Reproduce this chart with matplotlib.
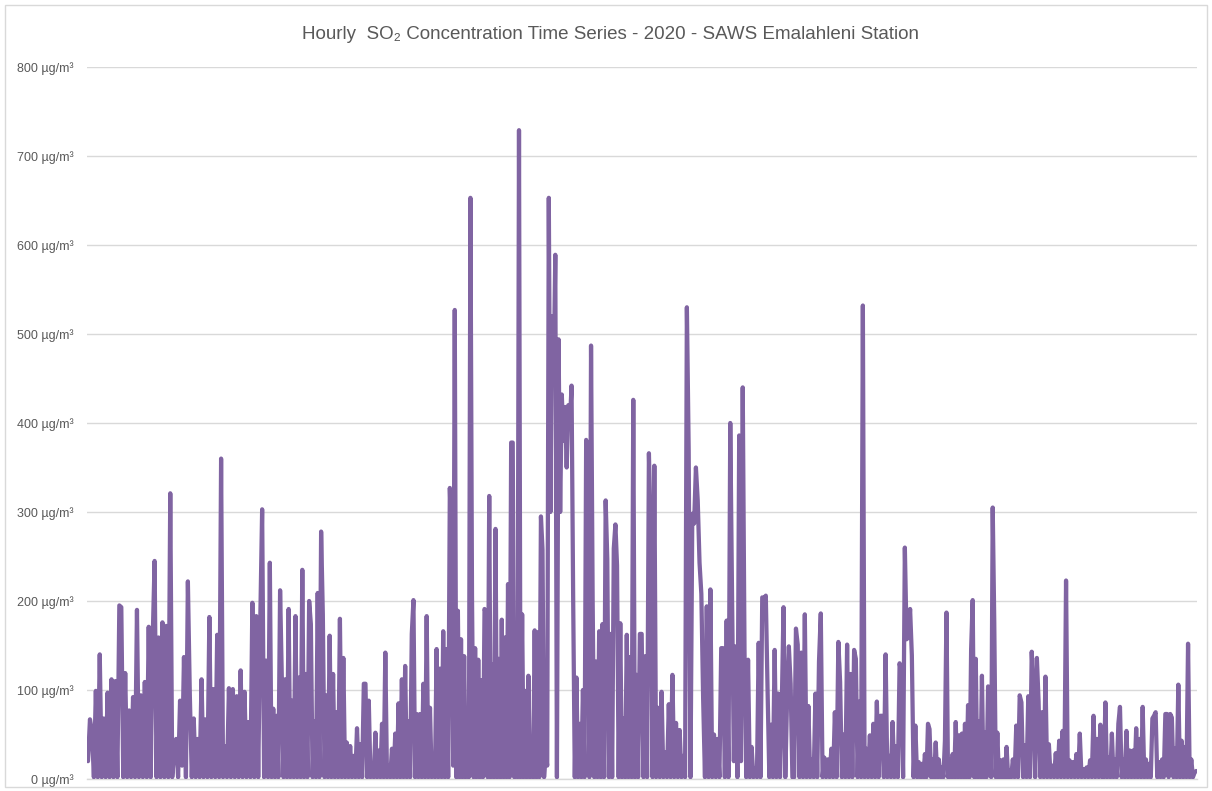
import matplotlib
matplotlib.use("Agg")
import numpy as np
import matplotlib.pyplot as plt
from matplotlib.patches import Rectangle

plt.rcParams["path.simplify"] = False

# Hourly SO2 readings (µg/m³), month by month (2020, leap year)
month_days = [31, 29, 31, 30, 31, 30, 31, 31, 30, 31, 30, 31]

jan = [20, 67, 54, 2, 99, 2, 140, 2, 68, 2, 97, 2, 112, 2, 110, 2, 195, 193, 2, 119,
       2, 77, 2, 92, 2, 190, 2, 94, 2, 109, 2, 171, 2, 154, 245, 2, 159, 2, 176, 2,
       172, 2, 321, 2, 30, 45, 2, 88]
feb = [15, 137, 2, 222, 94, 2, 68, 2, 45, 2, 112, 2, 67, 2, 182, 2, 101, 2, 162, 2,
       360, 2, 37, 2, 102, 2, 101, 2, 93, 2, 122, 2, 98, 2, 64, 2, 198, 2, 183, 2,
       172, 303, 2, 133, 2]
mar = [243, 2, 79, 2, 71, 2, 212, 114, 2, 112, 2, 191, 2, 88, 2, 183, 2, 114, 2, 235,
       2, 118, 2, 200, 174, 2, 65, 2, 209, 2, 278, 185, 2, 94, 2, 161, 2, 118, 2, 75,
       2, 180, 2, 136, 2, 41, 2, 37, 2, 26, 2, 57, 2, 39, 2]
apr = [107, 107, 2, 88, 2, 11, 2, 52, 2, 32, 2, 62, 2, 142, 2, 15, 2, 34, 2, 51,
       2, 85, 2, 112, 2, 127, 2, 65, 2, 163, 201, 2, 73, 2, 73, 2, 107, 2, 183, 2,
       80, 2, 22, 2, 146, 2, 124, 2, 166, 2, 146, 2, 327, 262, 15]
may = [527, 2, 189, 2, 157, 2, 138, 2, 52, 2, 653, 207, 2, 147, 2, 134, 2, 111, 2, 191,
       186, 2, 318, 2, 129, 2, 281, 2, 135, 2, 179, 2, 159, 2, 219, 2, 378, 378, 2, 152,
       2, 729, 2, 185, 2, 99, 2, 116, 2, 36, 2, 167, 2, 165, 2, 295, 258, 2, 30, 15]
jun = [653, 300, 520, 450, 589, 2, 494, 300, 432, 380, 418, 350, 420, 400, 442, 203, 2, 114, 2, 62,
       2, 100, 2, 381, 346, 2, 487, 199, 2, 132, 2, 166, 2, 174, 2, 313, 247, 2, 163, 2,
       259, 286, 240, 2, 175, 2, 68, 2, 162, 2, 137, 2, 426, 2, 117, 2]
jul = [163, 163, 2, 138, 2, 366, 278, 2, 352, 2, 80, 2, 98, 2, 30, 2, 84, 2, 117, 2,
       63, 2, 55, 2, 26, 2, 530, 369, 2, 298, 287, 350, 313, 243, 208, 90, 2, 194, 2, 213,
       2, 50, 2, 45, 2, 147, 147, 2, 178, 2, 400, 203]
aug = [20, 149, 2, 386, 20, 440, 144, 2, 134, 2, 36, 2, 12, 2, 153, 2, 204, 203, 206, 100,
       2, 61, 2, 145, 2, 96, 2, 80, 193, 2, 90, 149, 107, 2, 2, 169, 151, 2, 142, 2,
       185, 2, 82, 2, 22, 2, 96, 2, 132, 186, 2, 24, 2]
sep = [22, 2, 34, 2, 75, 2, 154, 109, 2, 50, 2, 151, 2, 118, 2, 145, 135, 2, 87, 2,
       532, 2, 34, 2, 49, 2, 62, 2, 87, 2, 71, 71, 2, 140, 2, 26, 2, 64, 2, 37,
       2, 130, 118, 2, 260, 157, 159, 191, 139, 2, 60, 2]
oct_ = [19, 2, 17, 2, 28, 2, 62, 56, 2, 22, 2, 41, 2, 22, 2, 13, 2, 43, 187, 2,
        22, 2, 28, 2, 64, 2, 49, 2, 51, 2, 62, 2, 83, 2, 146, 201, 2, 135, 2, 65,
        2, 116, 2, 52, 2, 104, 103, 2, 305, 176, 2, 52, 2, 21, 2, 22, 2, 36, 2, 9, 2]
nov = [22, 2, 60, 2, 94, 86, 2, 38, 2, 93, 2, 143, 98, 2, 136, 87, 2, 75, 2, 115,
       2, 39, 2, 15, 2, 29, 2, 43, 2, 54, 2, 223, 2, 21, 2, 19, 2, 28, 2, 51,
       2, 11, 2, 13, 2, 21, 2, 71, 2, 45, 2, 61, 2]
dec = [2, 86, 2, 24, 2, 51, 2, 22, 2, 62, 81, 2, 22, 2, 54, 2, 32, 2, 32, 2,
       57, 2, 45, 2, 81, 2, 22, 2, 17, 2, 68, 71, 75, 2, 19, 2, 22, 2, 73, 73,
       2, 73, 69, 2, 34, 2, 106, 2, 43, 2, 36, 2, 152, 2, 22, 2, 7, 9]

months = [jan, feb, mar, apr, may, jun, jul, aug, sep, oct_, nov, dec]

y_ticks = [0, 100, 200, 300, 400, 500, 600, 700, 800]
y_labels = [f"{v} µg/m³" for v in y_ticks]
title = "Hourly  SO₂ Concentration Time Series - 2020 - SAWS Emalahleni Station"

# build day-of-year positions for each month's readings
xs, ys = [], []
start = 0
for nd, vals in zip(month_days, months):
    n = len(vals)
    step = nd / n
    xs.extend(start + step * (np.arange(n) + 0.5))
    ys.extend(vals)
    start += nd
xs = np.array(xs)
ys = np.array(ys, dtype=float)

FONT = ["Liberation Sans", "DejaVu Sans"]
TXT = "#595959"

fig = plt.figure(figsize=(12.12, 7.91), dpi=100)
fig.patch.set_facecolor("white")
ax = fig.add_axes([0.0718, 0.0152, 0.9158, 0.9001])

line, = ax.plot(xs, ys, color="#8064A2", lw=3.05, solid_joinstyle="round",
                solid_capstyle="round", zorder=3)
line.set_snap(False)

ax.set_xlim(0, 366)
ax.set_ylim(0, 800)
ax.set_xticks([])
ax.set_yticks(y_ticks)
ax.set_yticklabels(y_labels, fontsize=9, color=TXT, family=FONT)
ax.tick_params(axis="y", length=0, pad=10)
ax.yaxis.grid(True, color="#D9D9D9", lw=1.0, zorder=0)
ax.set_axisbelow(True)
for s in ["top", "right", "left"]:
    ax.spines[s].set_visible(False)
ax.spines["bottom"].set_color("#D9D9D9")
ax.spines["bottom"].set_linewidth(1.0)

fig.text(0.5035, 0.957, title, ha="center", va="center", fontsize=13.5, color=TXT,
         family=FONT)

fig.patches.append(Rectangle((0.004, 0.005), 0.992, 0.989, transform=fig.transFigure,
                             fill=False, edgecolor="#D9D9D9", lw=1.0))

fig.savefig("out.png", dpi=100, facecolor="white")
